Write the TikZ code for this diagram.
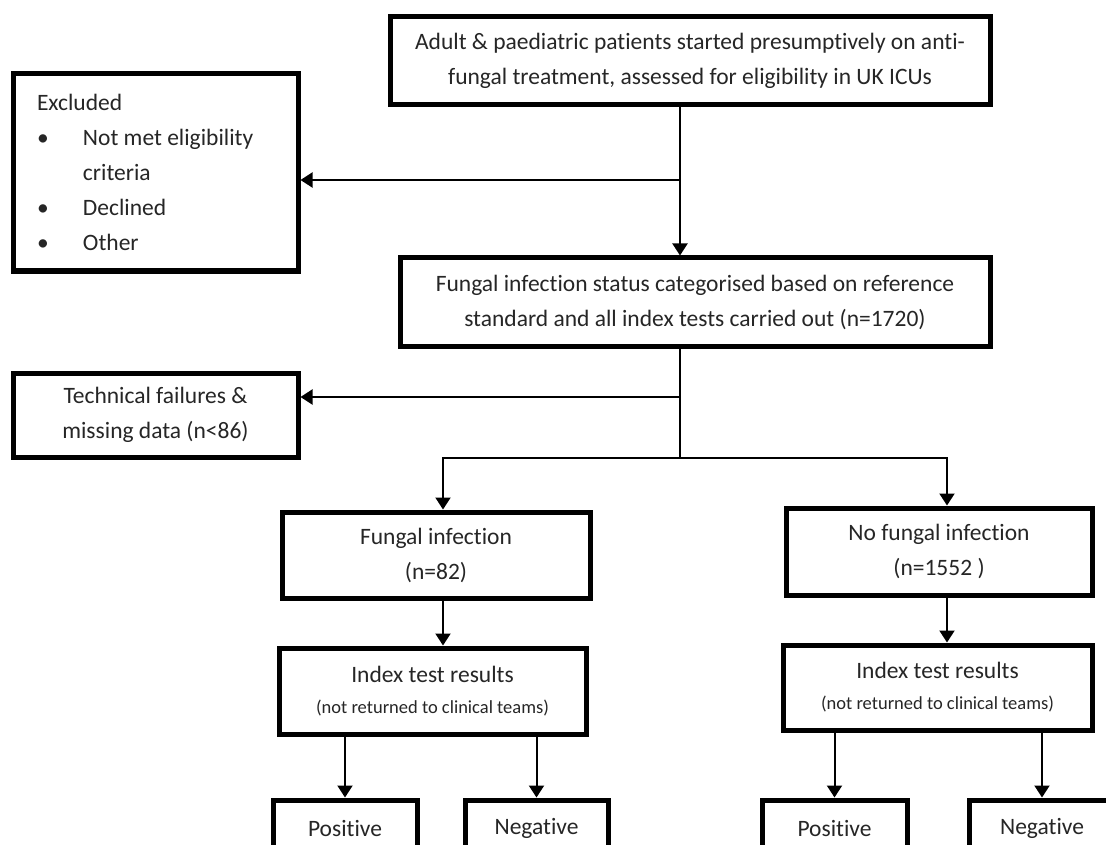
\documentclass[tikz,border=0pt]{standalone}
\usepackage{fontspec}
\setmainfont[Ligatures=NoCommon]{Carlito}
\usetikzlibrary{arrows.meta}
\newcommand{\smalltxt}{\fontsize{18.5}{22}\selectfont}

\begin{document}
\begin{tikzpicture}[x=1pt,y=-1pt,>={Triangle[width=15pt,length=12pt]},
		box/.style={draw=black,line width=5pt,fill=white,text=black!85,inner sep=0pt,align=center,
			font=\fontsize{23.5}{35}\selectfont},
		link/.style={line width=2pt,->}]
				\clip (0,0) rectangle (1106,845);
				\fill [white](0,0) rectangle (1106,845);
				% boxes
				\node[box,minimum width=600pt,minimum height=88pt] (adult) at (690,61) {Adult \& paediatric patients started presumptively on anti-\\fungal treatment, assessed for eligibility in UK ICUs};
				\node[box,minimum width=285pt,minimum height=197pt,text width=237pt,align=flush left] (excl) at (155.5,172.5) {Excluded\\
					\makebox[46pt][l]{\textbullet}Not met eligibility\\
					\makebox[46pt][l]{}criteria\\
					\makebox[46pt][l]{\textbullet}Declined\\
					\makebox[46pt][l]{\textbullet}Other};
				\node[box,minimum width=590pt,minimum height=88pt] (status) at (695,302) {Fungal infection status categorised based on reference\\standard and all index tests carried out (n=1720)};
				\node[box,minimum width=285pt,minimum height=84pt] (tech) at (155.5,415) {Technical failures \&\\missing data (n<86)};
				\node[box,minimum width=308pt,minimum height=86pt] (fung) at (436,555) {Fungal infection\\(n=82)};
				\node[box,minimum width=306pt,minimum height=87pt] (nofung) at (939,551.5) {No fungal infection\\(n=1552 )};
				\node[box,minimum width=307pt,minimum height=86pt] (idxL) at (432.5,691) {Index test results\\[-4pt]{\smalltxt(not returned to clinical teams)}};
				\node[box,minimum width=309pt,minimum height=85pt] (idxR) at (937.5,687.5) {Index test results\\[-4pt]{\smalltxt(not returned to clinical teams)}};
				\node[box,minimum width=144pt,minimum height=56pt] (posL) at (345,828) {Positive};
				\node[box,minimum width=143pt,minimum height=56pt] (negL) at (536.5,828) {Negative};
				\node[box,minimum width=145pt,minimum height=56pt] (posR) at (834.5,828) {Positive};
				\node[box,minimum width=145pt,minimum height=56pt] (negR) at (1042,828) {Negative};
				% junctions
				\coordinate (excljoin) at (680,180);
				\coordinate (techjoin) at (680,397);
				\coordinate (split) at (680,458);
				\coordinate (leftcol) at (443,458);
				\coordinate (rightcol) at (947,458);
				% connectors
				\draw [link] (adult.south -| excljoin) -- (status.north -| excljoin);
				\draw [link] (excljoin) -- (excl.east |- excljoin);
				\draw [line width=2pt] (status.south -| split) -- (split);
				\draw [link] (techjoin) -- (tech.east |- techjoin);
				\draw [line width=2pt,<->] (leftcol |- fung.north) -- (leftcol) -- (rightcol) -- (rightcol |- nofung.north);
				\draw [link] (leftcol |- fung.south) -- (leftcol |- idxL.north);
				\draw [link] (rightcol |- nofung.south) -- (rightcol |- idxR.north);
				\draw [link] (posL.north |- idxL.south) -- (posL.north);
				\draw [link] (negL.north |- idxL.south) -- (negL.north);
				\draw [link] (posR.north |- idxR.south) -- (posR.north);
				\draw [link] (negR.north |- idxR.south) -- (negR.north);
			\end{tikzpicture}
\end{document}
